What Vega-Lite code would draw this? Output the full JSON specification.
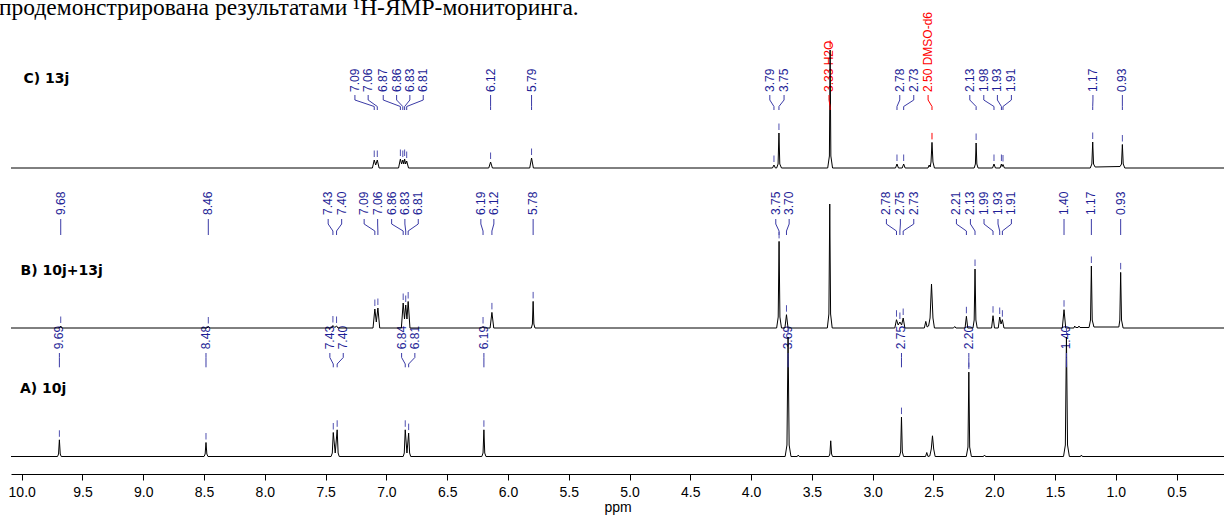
{
  "$schema": "https://vega.github.io/schema/vega-lite/v6.json",
  "autosize": "none",
  "padding": {"left": 11, "top": 0, "right": 0, "bottom": 42},
  "width": 1213,
  "height": 474,
  "background": "white",
  "title": {"text": "продемонстрирована результатами ¹H-ЯМР-мониторинга.", "anchor": "start", "frame": "group", "font": "Liberation Serif", "fontSize": 23.5, "fontWeight": "normal", "color": "black", "baseline": "alphabetic", "offset": -38.5, "dx": -12},
  "config": {
    "view": {"stroke": null},
    "axisX": {
      "values": [10, 9.75, 9.5, 9.25, 9, 8.75, 8.5, 8.25, 8, 7.75, 7.5, 7.25, 7, 6.75, 6.5, 6.25, 6, 5.75, 5.5, 5.25, 5, 4.75, 4.5, 4.25, 4, 3.75, 3.5, 3.25, 3, 2.75, 2.5, 2.25, 2, 1.75, 1.5, 1.25, 1, 0.75, 0.5, 0.25],
      "labelExpr": "datum.value % 0.5 == 0 ? format(datum.value, '.1f') : ''",
      "tickSize": {"condition": {"test": "datum.value % 0.5 == 0", "value": 6}, "value": 3},
      "domainColor": "black", "tickColor": "black", "labelColor": "black",
      "labelFont": "Liberation Sans", "labelFontSize": 14, "labelPadding": 5,
      "labelFlush": false, "labelOverlap": false, "grid": false,
      "titleFont": "Liberation Sans", "titleFontSize": 14, "titleFontWeight": "normal", "titleColor": "black", "titlePadding": 1
    }
  },
  "datasets": {
    "levels": [
      {"s": "A", "name": "A) 10j", "tx": 10.014, "ty": 81.5, "t": 124.7, "c1": 121, "c2": 116.5, "c3": 110, "c4": 106.7},
      {"s": "B", "name": "B) 10j+13j", "tx": 10.01, "ty": 199, "t": 259, "c1": 255, "c2": 250, "c3": 243, "c4": 239},
      {"s": "C", "name": "C) 13j", "tx": 9.985, "ty": 391, "t": 382, "c1": 379, "c2": 374, "c3": 367.5, "c4": 364}
    ],
    "peaks": [
      {"s": "C", "label": "7.09", "ppm": 7.1, "top": 314, "lx": 7.259, "red": false},
      {"s": "C", "label": "7.06", "ppm": 7.075, "top": 314, "lx": 7.15, "red": false},
      {"s": "C", "label": "6.87", "ppm": 6.885, "top": 315, "lx": 7.026, "red": false},
      {"s": "C", "label": "6.86", "ppm": 6.865, "top": 314, "lx": 6.916, "red": false},
      {"s": "C", "label": "6.83", "ppm": 6.85, "top": 315, "lx": 6.807, "red": false},
      {"s": "C", "label": "6.81", "ppm": 6.833, "top": 313, "lx": 6.697, "red": false},
      {"s": "C", "label": "6.12", "ppm": 6.143, "top": 312, "lx": 6.143, "red": false},
      {"s": "C", "label": "5.79", "ppm": 5.806, "top": 316, "lx": 5.806, "red": false},
      {"s": "C", "label": "3.79", "ppm": 3.812, "top": 309, "lx": 3.846, "red": false},
      {"s": "C", "label": "3.75", "ppm": 3.771, "top": 341, "lx": 3.729, "red": false},
      {"s": "C", "label": "3.33 H2O", "ppm": 3.35, "top": 424, "lx": 3.359, "red": true},
      {"s": "C", "label": "2.78", "ppm": 2.8, "top": 310, "lx": 2.777, "red": false},
      {"s": "C", "label": "2.73", "ppm": 2.745, "top": 310, "lx": 2.662, "red": false},
      {"s": "C", "label": "2.50 DMSO-d6", "ppm": 2.512, "top": 331.6, "lx": 2.544, "red": true},
      {"s": "C", "label": "2.13", "ppm": 2.149, "top": 331, "lx": 2.201, "red": false},
      {"s": "C", "label": "1.98", "ppm": 2.002, "top": 310, "lx": 2.086, "red": false},
      {"s": "C", "label": "1.93", "ppm": 1.941, "top": 310, "lx": 1.974, "red": false},
      {"s": "C", "label": "1.91", "ppm": 1.928, "top": 309.5, "lx": 1.859, "red": false},
      {"s": "C", "label": "1.17", "ppm": 1.19, "top": 332, "lx": 1.188, "red": false},
      {"s": "C", "label": "0.93", "ppm": 0.946, "top": 329.5, "lx": 0.946, "red": false},
      {"s": "B", "label": "9.68", "ppm": 9.679, "top": 148, "lx": 9.679, "red": false},
      {"s": "B", "label": "8.46", "ppm": 8.465, "top": 147.5, "lx": 8.465, "red": false},
      {"s": "B", "label": "7.43", "ppm": 7.44, "top": 148.5, "lx": 7.479, "red": false},
      {"s": "B", "label": "7.40", "ppm": 7.41, "top": 148, "lx": 7.368, "red": false},
      {"s": "B", "label": "7.09", "ppm": 7.095, "top": 165, "lx": 7.183, "red": false},
      {"s": "B", "label": "7.06", "ppm": 7.07, "top": 166, "lx": 7.072, "red": false},
      {"s": "B", "label": "6.86", "ppm": 6.862, "top": 171, "lx": 6.957, "red": false},
      {"s": "B", "label": "6.83", "ppm": 6.841, "top": 169, "lx": 6.848, "red": false},
      {"s": "B", "label": "6.81", "ppm": 6.821, "top": 172.5, "lx": 6.738, "red": false},
      {"s": "B", "label": "6.19", "ppm": 6.205, "top": 147.5, "lx": 6.223, "red": false},
      {"s": "B", "label": "6.12", "ppm": 6.132, "top": 161.6, "lx": 6.116, "red": false},
      {"s": "B", "label": "5.78", "ppm": 5.793, "top": 172.6, "lx": 5.793, "red": false},
      {"s": "B", "label": "3.75", "ppm": 3.77, "top": 232.6, "lx": 3.797, "red": false},
      {"s": "B", "label": "3.70", "ppm": 3.709, "top": 159.3, "lx": 3.687, "red": false},
      {"s": "B", "label": "2.78", "ppm": 2.804, "top": 154.3, "lx": 2.887, "red": false},
      {"s": "B", "label": "2.75", "ppm": 2.776, "top": 152, "lx": 2.772, "red": false},
      {"s": "B", "label": "2.73", "ppm": 2.749, "top": 156, "lx": 2.662, "red": false},
      {"s": "B", "label": "2.21", "ppm": 2.229, "top": 157.7, "lx": 2.311, "red": false},
      {"s": "B", "label": "2.13", "ppm": 2.158, "top": 205, "lx": 2.196, "red": false},
      {"s": "B", "label": "1.99", "ppm": 2.01, "top": 158.3, "lx": 2.084, "red": false},
      {"s": "B", "label": "1.93", "ppm": 1.955, "top": 157, "lx": 1.969, "red": false},
      {"s": "B", "label": "1.91", "ppm": 1.933, "top": 154.3, "lx": 1.859, "red": false},
      {"s": "B", "label": "1.40", "ppm": 1.426, "top": 164.3, "lx": 1.426, "red": false},
      {"s": "B", "label": "1.17", "ppm": 1.201, "top": 208, "lx": 1.201, "red": false},
      {"s": "B", "label": "0.93", "ppm": 0.96, "top": 201.6, "lx": 0.96, "red": false},
      {"s": "A", "label": "9.69", "ppm": 9.69, "top": 34.2, "lx": 9.69, "red": false},
      {"s": "A", "label": "8.48", "ppm": 8.484, "top": 31.5, "lx": 8.484, "red": false},
      {"s": "A", "label": "7.43", "ppm": 7.437, "top": 41.5, "lx": 7.465, "red": false},
      {"s": "A", "label": "7.40", "ppm": 7.405, "top": 44.2, "lx": 7.355, "red": false},
      {"s": "A", "label": "6.84", "ppm": 6.845, "top": 44.2, "lx": 6.875, "red": false},
      {"s": "A", "label": "6.81", "ppm": 6.817, "top": 40.9, "lx": 6.766, "red": false},
      {"s": "A", "label": "6.19", "ppm": 6.198, "top": 44.2, "lx": 6.198, "red": false},
      {"s": "A", "label": "3.69", "ppm": 3.696, "top": 137, "lx": 3.696, "red": false},
      {"s": "A", "label": "2.75", "ppm": 2.763, "top": 56.9, "lx": 2.763, "red": false},
      {"s": "A", "label": "2.20", "ppm": 2.209, "top": 101.9, "lx": 2.209, "red": false},
      {"s": "A", "label": "1.40", "ppm": 1.406, "top": 137, "lx": 1.406, "red": false}
    ],
    "trace": [
      {"s":"C","ppm":10.088,"y":306},
      {"s":"C","ppm":7.115,"y":306},{"s":"C","ppm":7.1,"y":314},{"s":"C","ppm":7.088,"y":309},{"s":"C","ppm":7.075,"y":314},{"s":"C","ppm":7.06,"y":306},
      {"s":"C","ppm":6.9,"y":306},{"s":"C","ppm":6.885,"y":315},{"s":"C","ppm":6.875,"y":310},{"s":"C","ppm":6.865,"y":314},{"s":"C","ppm":6.857,"y":310},{"s":"C","ppm":6.85,"y":315},{"s":"C","ppm":6.842,"y":310},{"s":"C","ppm":6.833,"y":313},{"s":"C","ppm":6.818,"y":306},
      {"s":"C","ppm":6.158,"y":306},{"s":"C","ppm":6.143,"y":312},{"s":"C","ppm":6.128,"y":306},
      {"s":"C","ppm":5.821,"y":306},{"s":"C","ppm":5.806,"y":316},{"s":"C","ppm":5.791,"y":306},
      {"s":"C","ppm":3.824,"y":306},{"s":"C","ppm":3.812,"y":309},{"s":"C","ppm":3.8,"y":306},{"s":"C","ppm":3.79,"y":306},{"s":"C","ppm":3.778,"y":310},{"s":"C","ppm":3.771,"y":341},{"s":"C","ppm":3.764,"y":310},{"s":"C","ppm":3.75,"y":306},
      {"s":"C","ppm":3.37,"y":306},{"s":"C","ppm":3.356,"y":318},{"s":"C","ppm":3.35,"y":424},{"s":"C","ppm":3.344,"y":318},{"s":"C","ppm":3.33,"y":306},
      {"s":"C","ppm":2.812,"y":306},{"s":"C","ppm":2.8,"y":310},{"s":"C","ppm":2.788,"y":306},{"s":"C","ppm":2.757,"y":306},{"s":"C","ppm":2.745,"y":310},{"s":"C","ppm":2.733,"y":306},
      {"s":"C","ppm":2.545,"y":306},{"s":"C","ppm":2.535,"y":309},{"s":"C","ppm":2.527,"y":307},{"s":"C","ppm":2.52,"y":312},{"s":"C","ppm":2.512,"y":331.6},{"s":"C","ppm":2.504,"y":312},{"s":"C","ppm":2.492,"y":306},
      {"s":"C","ppm":2.165,"y":306},{"s":"C","ppm":2.155,"y":310},{"s":"C","ppm":2.149,"y":331},{"s":"C","ppm":2.143,"y":310},{"s":"C","ppm":2.133,"y":306},
      {"s":"C","ppm":2.014,"y":306},{"s":"C","ppm":2.002,"y":310},{"s":"C","ppm":1.99,"y":306},
      {"s":"C","ppm":1.952,"y":306},{"s":"C","ppm":1.941,"y":310},{"s":"C","ppm":1.935,"y":307.5},{"s":"C","ppm":1.928,"y":309.5},{"s":"C","ppm":1.916,"y":306},
      {"s":"C","ppm":1.21,"y":306},{"s":"C","ppm":1.197,"y":310},{"s":"C","ppm":1.19,"y":332},{"s":"C","ppm":1.183,"y":310},{"s":"C","ppm":1.17,"y":307},
      {"s":"C","ppm":0.965,"y":307.5},{"s":"C","ppm":0.953,"y":310},{"s":"C","ppm":0.946,"y":329.5},{"s":"C","ppm":0.939,"y":310},{"s":"C","ppm":0.926,"y":306},
      {"s":"C","ppm":0.11,"y":306},
      {"s":"B","ppm":10.088,"y":146},
      {"s":"B","ppm":9.69,"y":146},{"s":"B","ppm":9.679,"y":148},{"s":"B","ppm":9.668,"y":146},
      {"s":"B","ppm":8.476,"y":146},{"s":"B","ppm":8.465,"y":147.5},{"s":"B","ppm":8.454,"y":146},
      {"s":"B","ppm":7.452,"y":146},{"s":"B","ppm":7.44,"y":148.5},{"s":"B","ppm":7.425,"y":146.5},{"s":"B","ppm":7.41,"y":148},{"s":"B","ppm":7.398,"y":146},
      {"s":"B","ppm":7.11,"y":146},{"s":"B","ppm":7.095,"y":165},{"s":"B","ppm":7.083,"y":152},{"s":"B","ppm":7.07,"y":166},{"s":"B","ppm":7.055,"y":146},
      {"s":"B","ppm":6.877,"y":146},{"s":"B","ppm":6.862,"y":171},{"s":"B","ppm":6.851,"y":155},{"s":"B","ppm":6.841,"y":169},{"s":"B","ppm":6.831,"y":155},{"s":"B","ppm":6.821,"y":172.5},{"s":"B","ppm":6.806,"y":146},
      {"s":"B","ppm":6.216,"y":146},{"s":"B","ppm":6.205,"y":147.5},{"s":"B","ppm":6.194,"y":146},
      {"s":"B","ppm":6.147,"y":146},{"s":"B","ppm":6.132,"y":161.6},{"s":"B","ppm":6.117,"y":146},
      {"s":"B","ppm":5.808,"y":146},{"s":"B","ppm":5.799,"y":150},{"s":"B","ppm":5.793,"y":172.6},{"s":"B","ppm":5.787,"y":150},{"s":"B","ppm":5.778,"y":146},
      {"s":"B","ppm":3.79,"y":146},{"s":"B","ppm":3.777,"y":157},{"s":"B","ppm":3.77,"y":232.6},{"s":"B","ppm":3.763,"y":157},{"s":"B","ppm":3.75,"y":146},
      {"s":"B","ppm":3.722,"y":146},{"s":"B","ppm":3.709,"y":159.3},{"s":"B","ppm":3.696,"y":146},
      {"s":"B","ppm":3.373,"y":146},{"s":"B","ppm":3.36,"y":160},{"s":"B","ppm":3.353,"y":270},{"s":"B","ppm":3.346,"y":160},{"s":"B","ppm":3.333,"y":146},
      {"s":"B","ppm":2.818,"y":146},{"s":"B","ppm":2.804,"y":154.3},{"s":"B","ppm":2.79,"y":149},{"s":"B","ppm":2.776,"y":152},{"s":"B","ppm":2.762,"y":149},{"s":"B","ppm":2.749,"y":156},{"s":"B","ppm":2.735,"y":146},
      {"s":"B","ppm":2.575,"y":146},{"s":"B","ppm":2.563,"y":152.6},{"s":"B","ppm":2.552,"y":147},{"s":"B","ppm":2.54,"y":148},{"s":"B","ppm":2.528,"y":156},{"s":"B","ppm":2.516,"y":190},{"s":"B","ppm":2.504,"y":156},{"s":"B","ppm":2.492,"y":146},
      {"s":"B","ppm":2.335,"y":146},{"s":"B","ppm":2.325,"y":147.5},{"s":"B","ppm":2.315,"y":146},
      {"s":"B","ppm":2.24,"y":146},{"s":"B","ppm":2.229,"y":157.7},{"s":"B","ppm":2.218,"y":146},
      {"s":"B","ppm":2.175,"y":146},{"s":"B","ppm":2.165,"y":154},{"s":"B","ppm":2.158,"y":205},{"s":"B","ppm":2.151,"y":154},{"s":"B","ppm":2.14,"y":146},
      {"s":"B","ppm":2.022,"y":146},{"s":"B","ppm":2.01,"y":158.3},{"s":"B","ppm":1.998,"y":146},
      {"s":"B","ppm":1.967,"y":146},{"s":"B","ppm":1.955,"y":157},{"s":"B","ppm":1.944,"y":150},{"s":"B","ppm":1.933,"y":154.3},{"s":"B","ppm":1.92,"y":146},
      {"s":"B","ppm":1.44,"y":146},{"s":"B","ppm":1.426,"y":164.3},{"s":"B","ppm":1.412,"y":146},
      {"s":"B","ppm":1.345,"y":146},{"s":"B","ppm":1.338,"y":148},{"s":"B","ppm":1.33,"y":146.5},{"s":"B","ppm":1.31,"y":146.5},{"s":"B","ppm":1.303,"y":148},{"s":"B","ppm":1.295,"y":146.5},
      {"s":"B","ppm":1.22,"y":146.5},{"s":"B","ppm":1.208,"y":154},{"s":"B","ppm":1.201,"y":208},{"s":"B","ppm":1.194,"y":154},{"s":"B","ppm":1.18,"y":147},
      {"s":"B","ppm":0.975,"y":147},{"s":"B","ppm":0.967,"y":154},{"s":"B","ppm":0.96,"y":201.6},{"s":"B","ppm":0.953,"y":154},{"s":"B","ppm":0.94,"y":146},
      {"s":"B","ppm":0.11,"y":146},
      {"s":"A","ppm":10.088,"y":17.5},
      {"s":"A","ppm":9.705,"y":17.5},{"s":"A","ppm":9.697,"y":20},{"s":"A","ppm":9.69,"y":34.2},{"s":"A","ppm":9.683,"y":20},{"s":"A","ppm":9.675,"y":17.5},
      {"s":"A","ppm":8.5,"y":17.5},{"s":"A","ppm":8.491,"y":20},{"s":"A","ppm":8.484,"y":31.5},{"s":"A","ppm":8.477,"y":20},{"s":"A","ppm":8.468,"y":17.5},
      {"s":"A","ppm":7.455,"y":17.5},{"s":"A","ppm":7.445,"y":21},{"s":"A","ppm":7.437,"y":41.5},{"s":"A","ppm":7.421,"y":21},{"s":"A","ppm":7.405,"y":44.2},{"s":"A","ppm":7.397,"y":21},{"s":"A","ppm":7.388,"y":17.5},
      {"s":"A","ppm":6.862,"y":17.5},{"s":"A","ppm":6.853,"y":21},{"s":"A","ppm":6.845,"y":44.2},{"s":"A","ppm":6.831,"y":21},{"s":"A","ppm":6.817,"y":40.9},{"s":"A","ppm":6.809,"y":21},{"s":"A","ppm":6.8,"y":17.5},
      {"s":"A","ppm":6.215,"y":17.5},{"s":"A","ppm":6.205,"y":21},{"s":"A","ppm":6.198,"y":44.2},{"s":"A","ppm":6.191,"y":21},{"s":"A","ppm":6.181,"y":17.5},
      {"s":"A","ppm":3.72,"y":17.5},{"s":"A","ppm":3.705,"y":29},{"s":"A","ppm":3.696,"y":137},{"s":"A","ppm":3.687,"y":29},{"s":"A","ppm":3.672,"y":17.5},
      {"s":"A","ppm":3.62,"y":17.5},{"s":"A","ppm":3.612,"y":19},{"s":"A","ppm":3.604,"y":17.5},
      {"s":"A","ppm":3.36,"y":17.5},{"s":"A","ppm":3.352,"y":20},{"s":"A","ppm":3.345,"y":33.2},{"s":"A","ppm":3.338,"y":20},{"s":"A","ppm":3.33,"y":17.5},
      {"s":"A","ppm":2.78,"y":17.5},{"s":"A","ppm":2.77,"y":22},{"s":"A","ppm":2.763,"y":56.9},{"s":"A","ppm":2.756,"y":22},{"s":"A","ppm":2.746,"y":17.5},
      {"s":"A","ppm":2.565,"y":17.5},{"s":"A","ppm":2.555,"y":21.5},{"s":"A","ppm":2.545,"y":17.5},{"s":"A","ppm":2.53,"y":18},{"s":"A","ppm":2.518,"y":25},{"s":"A","ppm":2.508,"y":38.2},{"s":"A","ppm":2.498,"y":25},{"s":"A","ppm":2.486,"y":17.5},
      {"s":"A","ppm":2.23,"y":17.5},{"s":"A","ppm":2.216,"y":27},{"s":"A","ppm":2.209,"y":101.9},{"s":"A","ppm":2.202,"y":27},{"s":"A","ppm":2.188,"y":17.5},
      {"s":"A","ppm":2.088,"y":17.5},{"s":"A","ppm":2.08,"y":19},{"s":"A","ppm":2.072,"y":17.5},
      {"s":"A","ppm":1.43,"y":17.5},{"s":"A","ppm":1.415,"y":29},{"s":"A","ppm":1.406,"y":137},{"s":"A","ppm":1.397,"y":29},{"s":"A","ppm":1.382,"y":17.5},
      {"s":"A","ppm":1.29,"y":17.5},{"s":"A","ppm":1.283,"y":19},{"s":"A","ppm":1.276,"y":17.5},
      {"s":"A","ppm":0.11,"y":17.5}
    ]
  },
  "layer": [
    {
      "data": {"name": "peaks"},
      "transform": [{"lookup": "s", "from": {"data": {"name": "levels"}, "key": "s", "fields": ["t", "c1", "c2", "c3", "c4"]}}],
      "mark": {"type": "text", "angle": 270, "align": "left", "baseline": "middle", "font": "Liberation Sans", "fontSize": 12},
      "encoding": {
        "x": {"field": "lx", "type": "quantitative", "title": "ppm", "scale": {"domain": [0.11, 10.088], "reverse": true, "nice": false, "zero": false}},
        "y": {"field": "t", "type": "quantitative", "scale": {"domain": [0, 474], "nice": false, "zero": false}, "axis": null},
        "text": {"field": "label"},
        "color": {"condition": {"test": "datum.red", "value": "#ff0000"}, "value": "#1e1e96"}
      }
    },
    {
      "data": {"name": "levels"},
      "mark": {"type": "text", "align": "left", "baseline": "alphabetic", "font": "DejaVu Sans", "fontSize": 14, "fontWeight": "bold", "color": "black"},
      "encoding": {
        "x": {"field": "tx", "type": "quantitative", "title": "ppm"},
        "y": {"field": "ty", "type": "quantitative", "axis": null},
        "text": {"field": "name"}
      }
    },
    {
      "data": {"name": "trace"},
      "mark": {"type": "line", "color": "black", "strokeWidth": 1, "interpolate": "linear"},
      "encoding": {
        "x": {"field": "ppm", "type": "quantitative", "title": "ppm"},
        "y": {"field": "y", "type": "quantitative", "axis": null},
        "detail": {"field": "s"}
      }
    },
    {
      "data": {"name": "peaks"},
      "transform": [{"lookup": "s", "from": {"data": {"name": "levels"}, "key": "s", "fields": ["t", "c1", "c2", "c3", "c4"]}}],
      "layer": [
        {
          "mark": {"type": "rule", "strokeWidth": 1},
          "encoding": {
            "x": {"field": "lx", "type": "quantitative", "title": "ppm"},
            "y": {"field": "c1", "type": "quantitative", "axis": null},
            "y2": {"field": "c2"},
            "color": {"condition": {"test": "datum.red", "value": "#ff0000"}, "value": "#3a3aa6"}
          }
        },
        {
          "mark": {"type": "rule", "strokeWidth": 1},
          "encoding": {
            "x": {"field": "lx", "type": "quantitative", "title": "ppm"},
            "x2": {"field": "ppm"},
            "y": {"field": "c2", "type": "quantitative", "axis": null},
            "y2": {"field": "c3"},
            "color": {"condition": {"test": "datum.red", "value": "#ff0000"}, "value": "#3a3aa6"}
          }
        },
        {
          "mark": {"type": "rule", "strokeWidth": 1},
          "encoding": {
            "x": {"field": "ppm", "type": "quantitative", "title": "ppm"},
            "y": {"field": "c3", "type": "quantitative", "axis": null},
            "y2": {"field": "c4"},
            "color": {"condition": {"test": "datum.red", "value": "#ff0000"}, "value": "#3a3aa6"}
          }
        },
        {
          "mark": {"type": "rule", "strokeWidth": 1, "yOffset": -3, "y2Offset": -9.5},
          "encoding": {
            "x": {"field": "ppm", "type": "quantitative", "title": "ppm"},
            "y": {"field": "top", "type": "quantitative", "axis": null},
            "y2": {"field": "top"},
            "color": {"condition": {"test": "datum.red", "value": "#ff0000"}, "value": "#5050b0"}
          }
        }
      ]
    }
  ]
}
